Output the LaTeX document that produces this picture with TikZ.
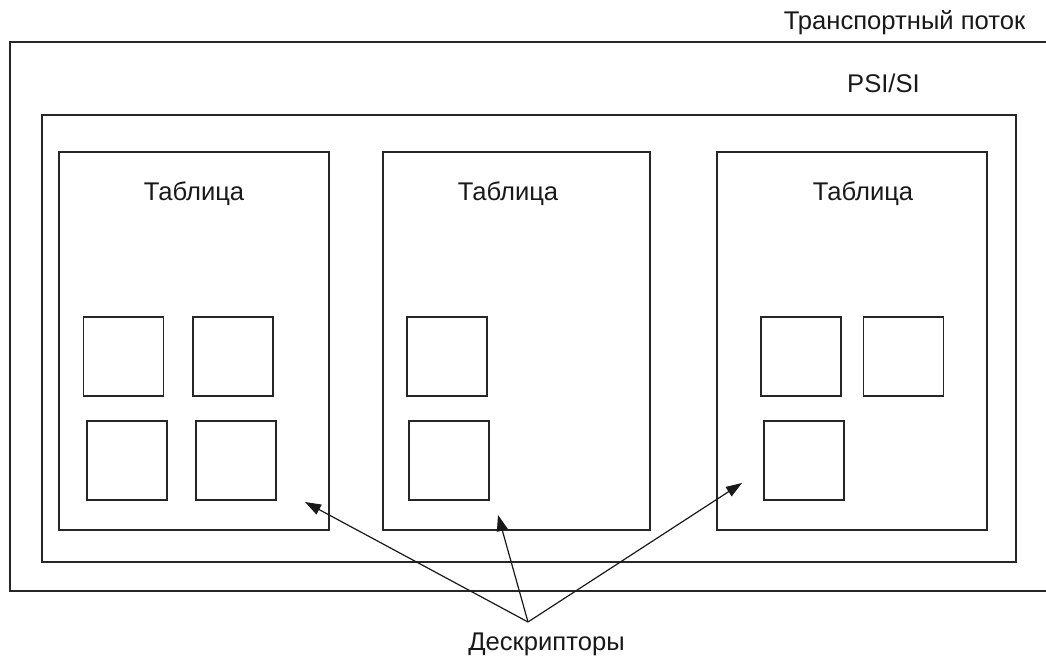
\documentclass[tikz,border=0pt]{standalone}
\usepackage{fontspec}
\setmainfont{Liberation Sans}
\usepackage{tikz}
\usetikzlibrary{positioning}
\usetikzlibrary{arrows.meta}

\tikzset{
    box/.style={rectangle, draw=black!85, line width=0.9pt, inner sep=0pt},
    descbox/.style={box, minimum width=40pt, minimum height=39.5pt},
    tablebox/.style={box, minimum width=135pt, minimum height=189pt},
    lbl/.style={font=\fontsize{12.8}{15}\selectfont, anchor=base, inner sep=0pt, text=black!90},
    ptr/.style={-{Triangle[length=8pt, width=5.5pt]}, line width=0.6pt, draw=black!90}
}

\begin{document}
\begin{tikzpicture}[x=0.5pt, y=-0.5pt]
        \path[use as bounding box, clip] (0,0) rectangle (1046,656);
        % frames
        \node[box, minimum width=525pt, minimum height=274.5pt] (stream) at (535,316.5) {};
        \node[box, minimum width=487pt, minimum height=223.5pt] (psi) at (529,338.5) {};
        \node[tablebox] (tabA) at (194,341) {};
        \node[tablebox, minimum width=133.5pt] (tabB) at (516.5,341) {};
        \node[tablebox] (tabC) at (852,341) {};
        % descriptors
        \node[descbox] (dA1) at (123.5,356.5) {};
        \node[descbox] (dA2) at (233,356.5) {};
        \node[descbox] (dA3) at (127,460.5) {};
        \node[descbox] (dA4) at (236,460.5) {};
        \node[descbox] (dB1) at (447,356.5) {};
        \node[descbox] (dB2) at (449,460.5) {};
        \node[descbox] (dC1) at (801,356.5) {};
        \node[descbox] (dC2) at (903.5,356.5) {};
        \node[descbox] (dC3) at (804,460.5) {};
        % labels
        \node[lbl] (streamlbl) at (904.5,30) {Транспортный поток};
        \node[lbl] (psilbl) at (883.5,93) {PSI/SI};
        \node[lbl] (tabAlbl) at (194,201) {Таблица};
        \node[lbl] (tabBlbl) at (508,201) {Таблица};
        \node[lbl] (tabClbl) at (863,201) {Таблица};
        \node[lbl] (desclbl) at (546.5,651) {Дескрипторы};
        % pointers
        \coordinate (conv) at (528,622);
        \coordinate (tipA) at (305,502);
        \coordinate (tipB) at (498,515);
        \coordinate (tipC) at (742,483);
        \draw[ptr] (conv) -- (tipA);
        \draw[ptr] (conv) -- (tipB);
        \draw[ptr] (conv) -- (tipC);
    \end{tikzpicture}
\end{document}
